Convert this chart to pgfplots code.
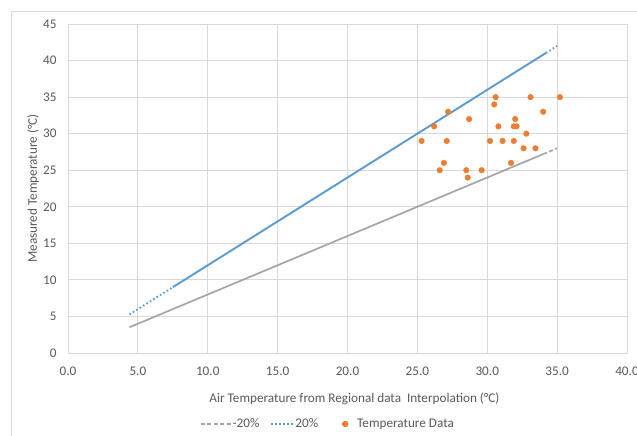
\documentclass[border=0pt]{standalone}
\usepackage{fontspec}
\setmainfont{Carlito}
\usepackage{pgfplots}
\pgfplotsset{compat=1.18}
\definecolor{gridc}{HTML}{D9D9D9}
\definecolor{txtc}{HTML}{595959}
\definecolor{blueS}{HTML}{5B9BD5}
\definecolor{orangeS}{HTML}{ED7D31}
\definecolor{grayS}{HTML}{A5A5A5}
\newcommand{\fs}{\fontsize{13.2}{15}\selectfont}
\pgfplotsset{longleg/.style={legend image code/.code={\draw[##1] (0pt,0pt) -- (#1,0pt);}},
  markleg/.style={legend image code/.code={\path[draw=none] (-16pt,0pt) -- (11pt,0pt); \draw[##1, draw=none] plot coordinates {(0pt,0pt)}; \fill[orangeS] (0pt,0pt) circle[radius=2.8pt];}}}
\begin{document}
\begin{tikzpicture}[x=1pt,y=1pt]
\path[use as bounding box] (-68,-83) rectangle (569,353);
\draw[gridc, line width=0.8pt] (-57,-83) -- (-57,342) -- (569,342);
\begin{axis}[
  at={(0,0)}, anchor=south west,
  scale only axis, width=559pt, height=329pt,
  xmin=0, xmax=40, ymin=0, ymax=45,
  xtick={0,5,...,40}, ytick={0,5,...,45},
  grid=major, major grid style={gridc, line width=0.8pt},
  axis line style={gridc, line width=0.8pt},
  axis lines=box,
  tick style={draw=none},
  ticklabel style={font=\fs, text=txtc},
  /pgf/number format/assume math mode=true,
  xticklabel style={yshift=-10pt, /pgf/number format/.cd, fixed, fixed zerofill, precision=1},
  yticklabel style={xshift=-8pt, /pgf/number format/fixed},
  xlabel={Air Temperature from Regional data\ \ Interpolation (°C)},
  ylabel={Measured Temperature (°C)},
  label style={font=\fs, text=txtc},
  xlabel style={at={(axis description cs:0.5125,-0.1398)}, anchor=center},
  ylabel style={at={(axis description cs:-0.0626,0.5)}, anchor=center},
  legend style={at={(axis description cs:0.4640,-0.2158)}, anchor=center,
    legend columns=-1, draw=none, fill=none, font=\fs, text=txtc,
    nodes={inner sep=1pt},
    /tikz/every even column/.append style={column sep=10pt}},
  clip=false,
]
% -20% line
\addplot[grayS, line width=1.7pt, forget plot] coordinates {(4.4,3.52) (34.0,27.2)};
\addplot[grayS, line width=1.7pt, dash pattern=on 4pt off 2.5pt, longleg=30pt]
  coordinates {(34.0,27.2) (35.0,28.0)};
\addlegendentry{-20\%}
% +20% line
\addplot[blueS, line width=1.9pt, forget plot] coordinates {(7.5,9.0) (34.2,41.04)};
\addplot[blueS, line width=1.9pt, forget plot, dash pattern=on 1.6pt off 2.4pt] coordinates {(34.2,41.04) (35.0,42.0)};
\addplot[blueS, line width=1.9pt, dash pattern=on 1.6pt off 2.4pt, longleg=22pt]
  coordinates {(4.4,5.28) (7.5,9.0)};
\addlegendentry{20\%}
% data
\addplot[only marks, mark=*, mark size=2.8pt, color=orangeS, mark options={draw=orangeS, fill=orangeS}, markleg]
coordinates {
(25.3,29) (26.2,31) (27.2,33) (27.1,29) (26.9,26) (26.6,25)
(28.7,32) (28.5,25) (28.6,24) (29.6,25) (30.2,29) (30.5,34)
(30.6,35) (30.8,31) (31.1,29) (31.7,26) (31.9,29) (32.0,32)
(31.9,31) (32.1,31) (32.8,30) (32.6,28) (33.1,35) (33.45,28)
(34.0,33) (35.2,35)
};
\addlegendentry{Temperature Data}
\end{axis}
\end{tikzpicture}
\end{document}
